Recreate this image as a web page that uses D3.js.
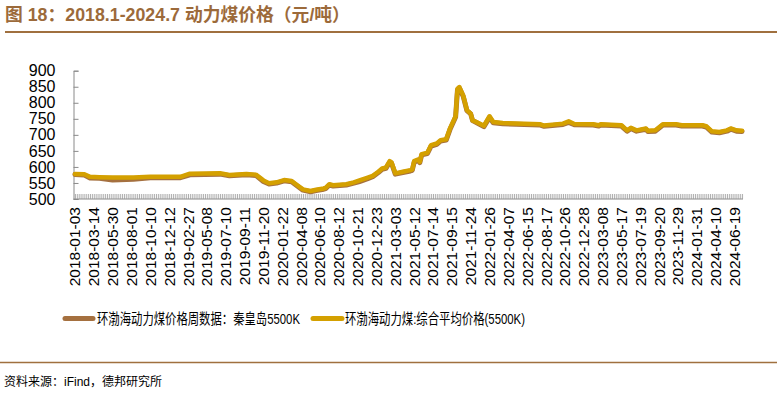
<!DOCTYPE html>
<html><head><meta charset="utf-8">
<script src="https://cdn.jsdelivr.net/npm/d3@7"></script>
<style>
body{margin:0;background:#fff;}
svg{display:block;}
</style></head>
<body><svg id="c" width="782" height="403"></svg>
<script>
const idx   = [0,5,8,13,20,31,40,56,61,77,82,91,96,100,103,107,111,115,118,121,125,128,132,133,135,137,144,148,151,155,158,161,163,165,167,168,170,174,178,179,180,182,183,184,187,189,192,194,197,199,201,202,203,204,206,208,210,211,213,217,220,222,227,247,249,259,262,265,275,278,279,290,293,295,298,303,304,308,312,319,322,333,335,338,342,346,348,351,354];
const gold  = [578,577,569,568,567,567,569,569,579,580,575,578,576,558,549,552,559,556,543,530,525,529,533,535,546,543,546,552,558,566,572,585,595,598,618,614,580,585,590,592,618,623,616,640,644,668,673,683,686,720,745,758,844,849,823,777,766,745,740,728,758,740,737,733,729,735,742,734,733,730,733,730,714,722,714,720,713,714,733,733,730,730,727,711,709,714,720,714,713];
const brown = [579,577,568,567,562,564,569,569,578,580,575,578,576,557,549,552,559,556,543,530,525,529,533,535,546,543,546,552,557,565,572,585,595,598,617,614,580,585,590,592,617,623,616,640,644,667,673,683,686,719,745,758,843,848,823,778,768,747,741,728,757,740,737,733,729,735,741,734,733,730,733,730,714,722,714,720,713,714,733,733,730,730,727,711,709,714,720,714,713];
const nCats = 355;
const tickLabels = ["2018-01-03","2018-03-14","2018-05-30","2018-08-01","2018-10-10","2018-12-12","2019-02-27","2019-05-08","2019-07-10","2019-09-11","2019-11-20","2020-01-22","2020-04-08","2020-06-10","2020-08-12","2020-10-21","2020-12-23","2021-03-03","2021-05-12","2021-07-14","2021-09-15","2021-11-24","2022-01-26","2022-04-07","2022-06-15","2022-08-17","2022-10-26","2022-12-28","2023-03-08","2023-05-17","2023-07-19","2023-09-20","2023-11-29","2024-01-31","2024-04-10","2024-06-19"];
const labelEvery = 10;
const yTicks = [500,550,600,650,700,750,800,850,900];
const seriesNames = ["环渤海动力煤价格周数据：秦皇岛5500K","环渤海动力煤:综合平均价格(5500K)"];
const colors = ["#A5703F","#D4A000"];

const svg = d3.select("#c");
const FONT = "'Liberation Sans', Arial, sans-serif";
const CJK = "'Liberation Sans','Noto Sans CJK SC', sans-serif";

// title
svg.append("text").attr("x",5).attr("y",20.5).attr("fill","#9C6A3A")
  .attr("font-family",CJK).attr("font-weight","bold").attr("font-size",17.8)
  .text("图 18：2018.1-2024.7 动力煤价格（元/吨）");
svg.append("line").attr("x1",5).attr("x2",777).attr("y1",32).attr("y2",32)
  .attr("stroke","#A0703F").attr("stroke-width",2);

const x = d3.scaleLinear().domain([-0.5, nCats-0.5]).range([74, 743]);
const y = d3.scaleLinear().domain([500,900]).range([199, 70.7]);

// y axis
const ya = svg.append("g").attr("transform","translate(73.5,0)")
  .call(d3.axisLeft(y).tickValues(yTicks).tickSize(-5).tickPadding(18));
ya.select(".domain").attr("stroke","#8a8a8a");
ya.selectAll(".tick line").attr("stroke","#8a8a8a");
ya.selectAll("text").attr("font-family",FONT).attr("font-size",16).attr("fill","#000");

// x axis: tick mark every category
const xa = svg.append("g").attr("transform","translate(0,199)")
  .call(d3.axisBottom(x).tickValues(d3.range(nCats)).tickSize(-5).tickFormat(""));
xa.select(".domain").attr("stroke","#8a8a8a").attr("d","M73.5,0H743");
xa.selectAll(".tick line").attr("stroke","#9a9a9a").attr("stroke-width",0.8);

const xl = svg.append("g");
tickLabels.forEach((t,i)=>{
  const px = x(i*labelEvery);
  xl.append("text").attr("transform",`translate(${px+5.5},207) rotate(-90)`)
    .attr("text-anchor","end").attr("font-family",FONT).attr("font-size",15.5)
    .attr("fill","#000").text(t);
});

const line = d3.line().x((d,i)=>x(idx[i])).y(d=>y(d)).curve(d3.curveLinear);
[brown,gold].forEach((s,k)=>{
  svg.append("path").attr("d",line(s)).attr("fill","none")
    .attr("stroke",colors[k]).attr("stroke-width",k===0?5:4.5)
    .attr("stroke-linejoin","round").attr("stroke-linecap","round")
    .attr("transform", k===0 ? "translate(0,0.8)" : null);
});

// legend
const leg = [{x0:65,x1:93,tx:97,w:203},{x0:313,x1:342,tx:345,w:180}];
leg.forEach((L,k)=>{
  svg.append("line").attr("x1",L.x0).attr("x2",L.x1).attr("y1",318.5).attr("y2",318.5)
    .attr("stroke",colors[k]).attr("stroke-width",5).attr("stroke-linecap","round");
  svg.append("text").attr("x",L.tx).attr("y",324).attr("font-family",CJK)
    .attr("font-size",14.5).attr("fill","#000")
    .attr("textLength",L.w).attr("lengthAdjust","spacingAndGlyphs").text(seriesNames[k]);
});

// footer
svg.append("line").attr("x1",0).attr("x2",777).attr("y1",362.5).attr("y2",362.5)
  .attr("stroke","#A0703F").attr("stroke-width",1.5);
svg.append("text").attr("x",4).attr("y",385.5).attr("font-family",CJK)
  .attr("font-size",12).attr("fill","#000").text("资料来源：iFind，德邦研究所");
</script></body></html>
